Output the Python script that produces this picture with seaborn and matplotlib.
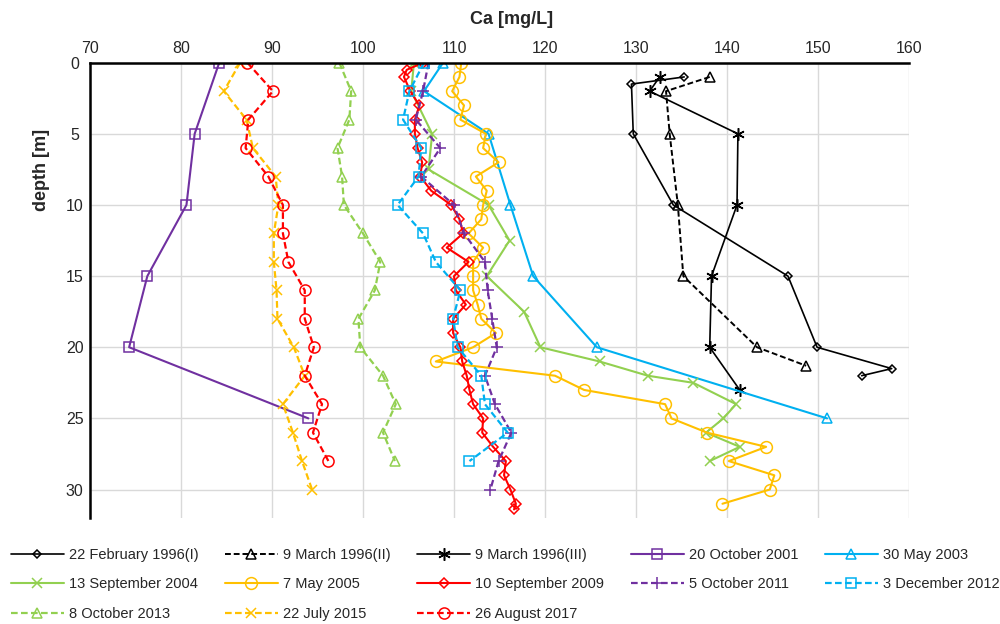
import matplotlib
matplotlib.use("Agg")
import matplotlib.pyplot as plt
import pandas as pd
import seaborn as sns

sns.set_style("white")
plt.rcParams["font.family"] = ["Liberation Sans", "DejaVu Sans"]

# ---------------- data ----------------
labels = ["22 February 1996(I)", "9 March 1996(II)", "9 March 1996(III)",
          "20 October 2001", "30 May 2003", "13 September 2004", "7 May 2005",
          "10 September 2009", "5 October 2011", "3 December 2012",
          "8 October 2013", "22 July 2015", "26 August 2017"]

feb1996_depth = [1, 1.5, 5, 10, 15, 20, 21.5, 22]
feb1996_ca = [135.3, 129.5, 129.7, 134.1, 146.7, 149.9, 158.1, 154.8]

mar1996b_depth = [1, 2, 5, 10, 15, 20, 21.3]
mar1996b_ca = [138.1, 133.3, 133.7, 134.6, 135.2, 143.3, 148.7]

mar1996c_depth = [1, 2, 5, 10, 15, 20, 23]
mar1996c_ca = [132.6, 131.5, 141.2, 141.1, 138.3, 138.1, 141.4]

oct2001_depth = [0, 5, 10, 15, 20, 25]
oct2001_ca = [84.2, 81.5, 80.6, 76.3, 74.3, 94.0]

may2003_depth = [0, 2, 5, 10, 15, 20, 25]
may2003_ca = [108.8, 106.7, 113.8, 116.2, 118.7, 125.7, 151.0]

sep2004_depth = [0, 2, 5, 7.5, 10, 12.5, 15, 17.5, 20, 21, 22, 22.5, 24, 25, 26, 27, 28]
sep2004_ca = [105.6, 105.3, 107.6, 107.2, 113.8, 116.1, 113.6, 117.7, 119.5,
              126.0, 131.3, 136.3, 141.0, 139.6, 137.7, 141.4, 138.1]

may2005_depth = [0, 1, 2, 3, 4, 5, 6, 7, 8, 9, 10, 11, 12, 13, 14, 15, 16, 17,
                 18, 19, 20, 21, 22, 23, 24, 25, 26, 27, 28, 29, 30, 31]
may2005_ca = [110.8, 110.6, 109.8, 111.1, 110.7, 113.5, 113.2, 114.9, 112.4,
              113.6, 113.2, 113.0, 111.6, 113.2, 112.1, 112.1, 112.1, 112.6,
              113.0, 114.6, 112.1, 108.0, 121.1, 124.3, 133.2, 133.9, 137.8,
              144.3, 140.2, 145.2, 144.7, 139.5]

sep2009_depth = [0, 0.5, 1, 2, 3, 4, 5, 6, 7, 8, 9, 10, 11, 12, 13, 14, 15, 16,
                 17, 18, 19, 20, 21, 22, 23, 24, 25, 26, 27, 28, 29, 30, 31, 31.4]
sep2009_ca = [106.6, 104.8, 104.5, 105.2, 106.2, 105.7, 105.7, 106.0, 106.5,
              106.3, 107.5, 109.7, 110.6, 111.0, 109.2, 111.6, 110.0, 110.2,
              111.3, 109.9, 109.9, 110.7, 110.9, 111.4, 111.7, 112.1, 113.2,
              113.1, 114.3, 115.7, 115.5, 116.2, 116.8, 116.6]

oct2011_depth = [0, 2, 4, 6, 8, 10, 12, 14, 16, 18, 20, 22, 24, 26, 28, 30]
oct2011_ca = [107.2, 106.6, 105.8, 108.5, 106.4, 110.0, 111.1, 113.4, 113.7,
              114.2, 114.7, 113.4, 114.5, 116.3, 114.9, 114.0]

dec2012_depth = [0, 2, 4, 6, 8, 10, 12, 14, 16, 18, 20, 22, 24, 26, 28]
dec2012_ca = [106.7, 105.1, 104.4, 106.4, 106.1, 103.8, 106.6, 108.0, 110.7,
              109.9, 110.4, 113.0, 113.4, 115.9, 111.7]

oct2013_depth = [0, 2, 4, 6, 8, 10, 12, 14, 16, 18, 20, 22, 24, 26, 28]
oct2013_ca = [97.4, 98.7, 98.5, 97.2, 97.7, 97.9, 100.0, 101.9, 101.3, 99.5,
              99.7, 102.2, 103.6, 102.2, 103.5]

jul2015_depth = [0, 2, 4, 6, 8, 10, 12, 14, 16, 18, 20, 22, 24, 26, 28, 30]
jul2015_ca = [86.5, 84.7, 87.2, 87.9, 90.4, 90.7, 90.2, 90.2, 90.5, 90.6, 92.4,
              93.6, 91.2, 92.3, 93.3, 94.4]

aug2017_depth = [0, 2, 4, 6, 8, 10, 12, 14, 16, 18, 20, 22, 24, 26, 28]
aug2017_ca = [87.3, 90.1, 87.4, 87.1, 89.6, 91.2, 91.2, 91.8, 93.6, 93.6, 94.6,
              93.6, 95.5, 94.5, 96.2]

depths = [feb1996_depth, mar1996b_depth, mar1996c_depth, oct2001_depth,
          may2003_depth, sep2004_depth, may2005_depth, sep2009_depth,
          oct2011_depth, dec2012_depth, oct2013_depth, jul2015_depth,
          aug2017_depth]
values = [feb1996_ca, mar1996b_ca, mar1996c_ca, oct2001_ca, may2003_ca,
          sep2004_ca, may2005_ca, sep2009_ca, oct2011_ca, dec2012_ca,
          oct2013_ca, jul2015_ca, aug2017_ca]

x_ticks = [70, 80, 90, 100, 110, 120, 130, 140, 150, 160]
y_ticks = [0, 5, 10, 15, 20, 25, 30]

# ---------------- styles ----------------
BLACK, PURPLE, BLUE, GREEN, GOLD, RED = "#000000", "#7030A0", "#00B0F0", "#92D050", "#FFC000", "#FF0000"
DASH = (0, (3, 1.5))
styles = [
    dict(color=BLACK, ls="-", lw=1.2, marker="D", ms=4.5),
    dict(color=BLACK, ls=DASH, lw=1.4, marker="^", ms=7),
    dict(color=BLACK, ls="-", lw=1.2, marker=(6, 2, 0), ms=9),
    dict(color=PURPLE, ls="-", lw=1.5, marker="s", ms=7),
    dict(color=BLUE, ls="-", lw=1.5, marker="^", ms=7),
    dict(color=GREEN, ls="-", lw=1.5, marker="x", ms=7.5),
    dict(color=GOLD, ls="-", lw=1.5, marker="o", ms=8.5),
    dict(color=RED, ls="-", lw=1.5, marker="D", ms=5),
    dict(color=PURPLE, ls=DASH, lw=1.6, marker="+", ms=8.5),
    dict(color=BLUE, ls=DASH, lw=1.6, marker="s", ms=7),
    dict(color=GREEN, ls=DASH, lw=1.6, marker="^", ms=7),
    dict(color=GOLD, ls=DASH, lw=1.6, marker="x", ms=7.5),
    dict(color=RED, ls=DASH, lw=1.6, marker="o", ms=8),
]

fig = plt.figure(figsize=(10, 6.24), dpi=100)
ax = fig.add_axes([0.090, 0.1699, 0.819, 0.7296])

handles = []
for lab, d, v, st in zip(labels, depths, values, styles):
    df = pd.DataFrame({"Ca": v, "depth": d})
    sns.lineplot(data=df, x="Ca", y="depth", sort=False, estimator=None, ax=ax,
                 color=st["color"], linestyle=st["ls"], linewidth=st["lw"],
                 marker=st["marker"], markersize=st["ms"],
                 markerfacecolor="none", markeredgecolor=st["color"],
                 markeredgewidth=1.1, label=lab)
    handles.append(ax.lines[-1])

if ax.get_legend() is not None:
    ax.get_legend().remove()

ax.set_xlim(70, 160)
ax.set_ylim(32, 0)
ax.set_xticks(x_ticks)
ax.set_yticks(y_ticks)
ax.xaxis.tick_top()
ax.xaxis.set_label_position("top")
ax.tick_params(axis="both", length=0, labelsize=11.5, labelcolor="#262626")
ax.tick_params(axis="x", pad=5)
ax.tick_params(axis="y", pad=11)
for t in ax.get_yticklabels():
    t.set_horizontalalignment("center")

ax.grid(True, color="#D9D9D9", linewidth=1.0)
ax.set_axisbelow(True)
for side in ["right", "bottom"]:
    ax.spines[side].set_visible(False)
for side in ["top", "left"]:
    ax.spines[side].set_visible(True)
    ax.spines[side].set_color("black")
    ax.spines[side].set_linewidth(1.8)

ax.set_xlabel("Ca [mg/L]", fontsize=13, fontweight="bold", color="#262626")
ax.xaxis.set_label_coords(0.515, 1.085)
ax.set_ylabel("depth [m]", fontsize=13, fontweight="bold", color="#262626")
ax.yaxis.set_label_coords(-0.049, 0.764)

# legend: row-major order like the reference (5 columns)
order = [0, 5, 10, 1, 6, 11, 2, 7, 12, 3, 8, 4, 9]
fig.legend([handles[i] for i in order], [labels[i] for i in order],
           loc="upper left", bbox_to_anchor=(0.011, 0.1216), ncol=5,
           frameon=False, fontsize=10.5, handlelength=3.6, handletextpad=0.35,
           columnspacing=1.85, labelspacing=1.05, borderpad=0, borderaxespad=0,
           labelcolor="#262626")

fig.savefig("out.png", dpi=100)
